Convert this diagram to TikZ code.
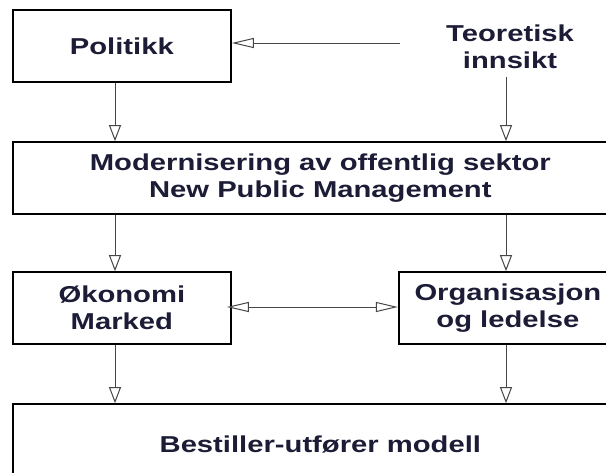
\documentclass[tikz,border=0pt]{standalone}
\usepackage{fontspec}
\setmainfont{Liberation Sans}[FakeStretch=1.27]
\usetikzlibrary{arrows.meta}
\definecolor{txt}{RGB}{28,28,55}
\definecolor{arrc}{RGB}{70,70,70}
\tikzset{
  box/.style={draw=black, line width=1.6pt, inner sep=0pt, fill=white},
  lbl/.style={text=txt, font=\fontsize{23}{27}\selectfont\bfseries, align=center},
  varr/.style={draw=arrc, line width=1pt, -{Triangle[open, length=16pt, width=12pt, line width=1pt]}},
  harr/.style={draw=arrc, line width=1pt, -{Triangle[open, length=22pt, width=10pt, line width=1pt]}},
  darr/.style={draw=arrc, line width=1pt, {Triangle[open, length=22pt, width=10pt, line width=1pt]}-{Triangle[open, length=22pt, width=10pt, line width=1pt]}},
}
\begin{document}
\begin{tikzpicture}[x=1pt,y=-1pt]
\useasboundingbox (0,0) rectangle (606,472);
\clip (0,0) rectangle (606,472);
\fill[white] (0,0) rectangle (606,472);
% boxes
\node[box, lbl, minimum width=218.3pt, minimum height=72pt] (pol) at (121.85,46) {Politikk};
\node[lbl] (teo) at (510,47) {Teoretisk\\innsikt};
\node[box, lbl, minimum width=615.3pt, minimum height=72pt] (mod) at (320.35,178) {Modernisering av offentlig sektor\\New Public Management};
\node[box, lbl, minimum width=218.3pt, minimum height=72pt] (oko) at (121.85,308) {Økonomi\\Marked};
\node[box, lbl, minimum width=218.3pt, minimum height=72pt] (org) at (507.85,308) {Organisasjon\\og ledelse};
\node[box, lbl, minimum width=615.3pt, minimum height=80pt] (bes) at (320.35,444) {Bestiller-utfører modell};
% helper coordinates
\coordinate (cL) at (115,0);
\coordinate (cR) at (506,0);
\coordinate (hs) at (400,43);
\coordinate (hy) at (0,307);
% connectors
\draw[harr] (hs) -- (hs -| pol.east);
\draw[varr] (pol.south -| cL) -- (mod.north -| cL);
\draw[varr, shorten <=5pt] (teo.south -| cR) -- (mod.north -| cR);
\draw[varr] (mod.south -| cL) -- (oko.north -| cL);
\draw[varr] (mod.south -| cR) -- (org.north -| cR);
\draw[varr] (oko.south -| cL) -- (bes.north -| cL);
\draw[varr] (org.south -| cR) -- (bes.north -| cR);
\draw[darr, shorten <=-5pt] (oko.east |- hy) -- (org.west |- hy);
\end{tikzpicture}
\end{document}
